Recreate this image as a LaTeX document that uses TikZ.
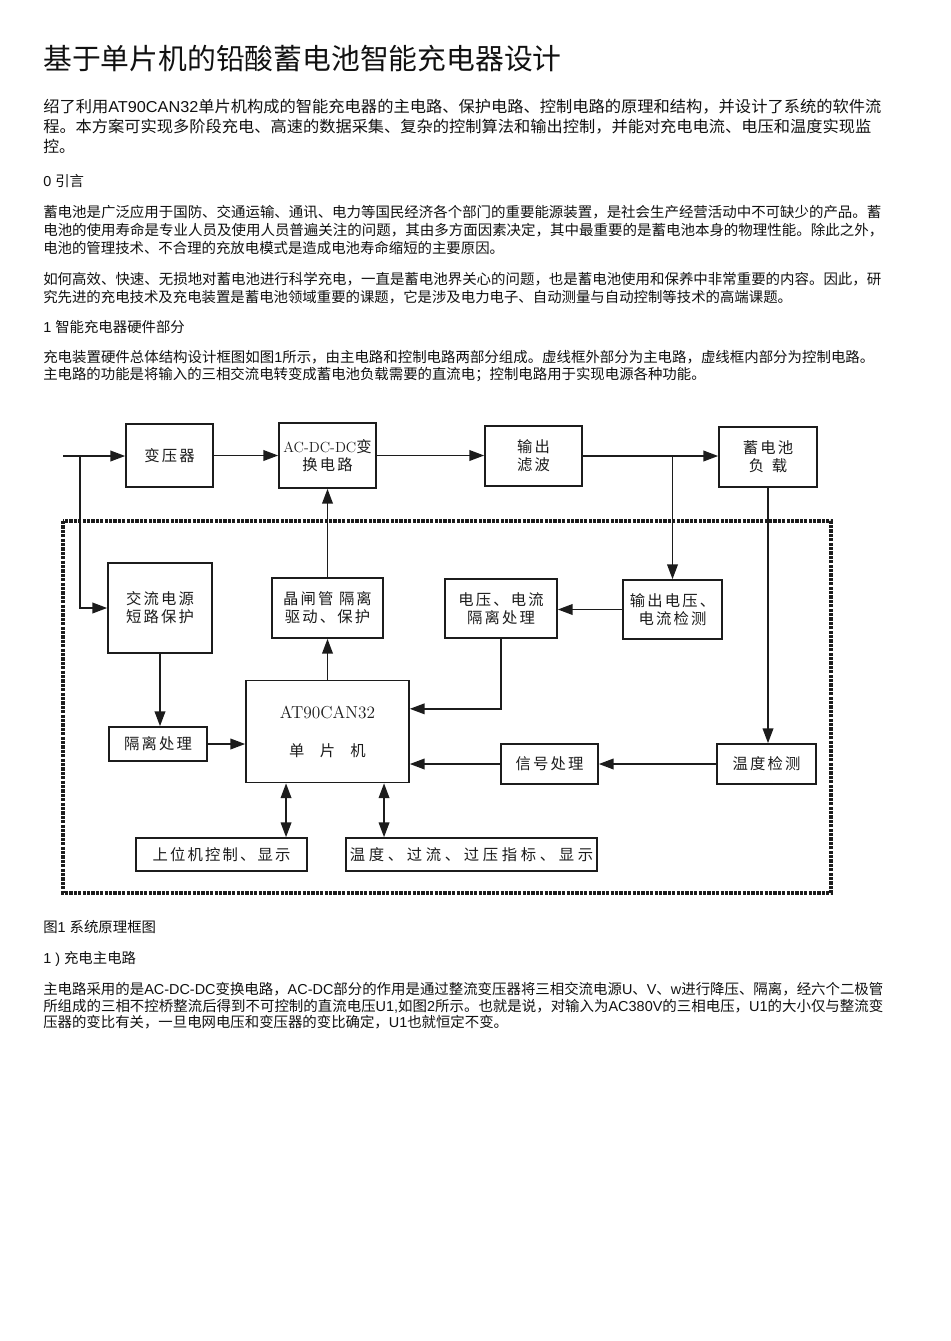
\documentclass[tikz,border=0pt]{standalone}
\usepackage{fontspec}
\usepackage{graphicx}
\usetikzlibrary{positioning, arrows.meta}
\newfontfamily\cjk{Noto Sans CJK SC}
\newfontfamily\cjkbox[LetterSpace=14]{Noto Sans CJK SC}
\newfontfamily\lat{Liberation Sans}
\definecolor{pageInk}{HTML}{111111}
\definecolor{boxInk}{HTML}{1C1C1C}
\colorlet{frameInk}{boxInk}
\newdimen\px \px=0.75pt
\newcommand\fitline[2]{\resizebox{#1\px}{\height}{#2}}

\begin{document}
\begin{tikzpicture}[x=0.75pt, y=-0.75pt,
  body/.style={anchor=west, inner sep=0pt, text=pageInk,
               font=\cjk\fontsize{10.8pt}{13pt}\selectfont},
  lead/.style={body, font=\cjk\fontsize{11.85pt}{14pt}\selectfont},
  unit/.style={draw=boxInk, line width=1.3pt, inner sep=0pt, align=center,
               text=boxInk, font=\cjkbox\fontsize{11.5pt}{13.5pt}\selectfont},
  link/.style={draw=boxInk, line width=1pt, -{Triangle[length=11pt, width=8pt]}},
  duplex/.style={link, {Triangle[length=11pt, width=8pt]}-{Triangle[length=11pt, width=8pt]}},
  ctrlframe/.style={draw=frameInk, line width=2.4pt, dash pattern=on 2.4pt off 0.9pt}]

  \fill[white] (0,0) rectangle (950,1341);
  \useasboundingbox (0,0) rectangle (950,1341);

  % page text
  \node[body, font=\cjk\fontsize{21.6pt}{26pt}\selectfont] (title) at (43,58.5)
    {基于单片机的铅酸蓄电池智能充电器设计};

  \node[lead] (p1a) at (43,107) {\fitline{838}{绍了利用{\lat AT90CAN32}单片机构成的智能充电器的主电路、保护电路、控制电路的原理和结构，并设计了系统的软件流}};
  \node[lead] (p1b) at (43,126.5) {\fitline{828}{程。本方案可实现多阶段充电、高速的数据采集、复杂的控制算法和输出控制，并能对充电电流、电压和温度实现监}};
  \node[lead] (p1c) at (43,146.5) {控。};

  \node[body] (h0) at (43,181) {{\lat 0 }引言};

  \node[body] (p2a) at (43,212.5) {\fitline{838}{蓄电池是广泛应用于国防、交通运输、通讯、电力等国民经济各个部门的重要能源装置，是社会生产经营活动中不可缺少的产品。蓄}};
  \node[body] (p2b) at (43,230) {\fitline{840}{电池的使用寿命是专业人员及使用人员普遍关注的问题，其由多方面因素决定，其中最重要的是蓄电池本身的物理性能。除此之外，}};
  \node[body] (p2c) at (43,247.5) {电池的管理技术、不合理的充放电模式是造成电池寿命缩短的主要原因。};

  \node[body] (p3a) at (43,279) {\fitline{838}{如何高效、快速、无损地对蓄电池进行科学充电，一直是蓄电池界关心的问题，也是蓄电池使用和保养中非常重要的内容。因此，研}};
  \node[body] (p3b) at (43,296.7) {究先进的充电技术及充电装置是蓄电池领域重要的课题，它是涉及电力电子、自动测量与自动控制等技术的高端课题。};

  \node[body] (h1) at (43,327) {{\lat 1 }智能充电器硬件部分};

  \node[body] (p4a) at (43,357.5) {\fitline{831}{充电装置硬件总体结构设计框图如图{\lat 1}所示，由主电路和控制电路两部分组成。虚线框外部分为主电路，虚线框内部分为控制电路。}};
  \node[body] (p4b) at (43,375) {主电路的功能是将输入的三相交流电转变成蓄电池负载需要的直流电；控制电路用于实现电源各种功能。};

  \node[body] (cap) at (43,927) {图{\lat 1 }系统原理框图};
  \node[body] (h11) at (43,959) {{\lat 1 ) }充电主电路};

  \node[body] (p5a) at (43,989) {\fitline{840}{主电路采用的是{\lat AC-DC-DC}变换电路，{\lat AC-DC}部分的作用是通过整流变压器将三相交流电源{\lat U}、{\lat V}、{\lat w}进行降压、隔离，经六个二极管}};
  \node[body] (p5b) at (43,1006) {\fitline{840}{所组成的三相不控桥整流后得到不可控制的直流电压{\lat U1,}如图{\lat 2}所示。也就是说，对输入为{\lat AC380V}的三相电压，{\lat U1}的大小仅与整流变}};
  \node[body] (p5c) at (43,1022.5) {压器的变比有关，一旦电网电压和变压器的变比确定，{\lat U1}也就恒定不变。};

  % block diagram
  \draw[ctrlframe] (63,521) rectangle (831,893);

  \node[unit, minimum width=87\px, minimum height=63\px] (xfmr) at (169.5,455.5) {变压器};
  \node[unit, minimum width=97\px, minimum height=65\px] (conv) at (327.5,455.5)
    {{\rmfamily\fontsize{11pt}{13pt}\selectfont AC-DC-DC}变\\换电路};
  \node[unit, minimum width=97\px, minimum height=60\px] (filt) at (533.5,456) {输出\\滤波};
  \node[unit, minimum width=98\px, minimum height=60\px] (batt) at (768,457) {蓄电池\\负\hspace{0.5em}载};

  \node[unit, minimum width=104\px, minimum height=90\px] (acsc) at (160,608) {交流电源\\短路保护};
  \node[unit, minimum width=111\px, minimum height=60\px] (scr) at (327.5,608) {晶闸管 隔离\\驱动、保护};
  \node[unit, minimum width=112\px, minimum height=59\px] (viso) at (501,608.5) {电压、电流\\隔离处理};
  \node[unit, minimum width=99\px, minimum height=59\px] (vdet) at (672.5,609.5) {输出电压、\\电流检测};

  \node[unit, minimum width=98\px, minimum height=34\px] (iso) at (158,744) {隔离处理};
  \node[unit, minimum width=163\px, minimum height=102\px,
        font=\cjkbox\fontsize{11.5pt}{28.5pt}\selectfont] (mcu) at (327.5,731.5)
    {{\rmfamily\fontsize{13pt}{15pt}\selectfont AT90CAN32}\\单\quad 片\quad 机};
  \node[unit, minimum width=97\px, minimum height=40\px] (sig) at (549.5,764) {信号处理};
  \node[unit, minimum width=99\px, minimum height=40\px] (tdet) at (766.5,764) {温度检测};

  \node[unit, minimum width=171\px, minimum height=33\px] (host) at (221.5,854.5) {上位机控制、显示};
  \node[unit, minimum width=251\px, minimum height=33\px] (ind) at (471.5,854.5)
    {\addfontfeature{LetterSpace=24}温度、过流、过压指标、显示};

  \coordinate (src) at (63,456);
  \coordinate (tap) at (80,456);

  \draw[link] (src) -- (src -| xfmr.west);
  \draw[link] (tap) |- (acsc.west);
  \draw[link] (xfmr) -- (conv);
  \draw[link] (conv.east) -- (conv.east -| filt.west);
  \draw[link] (filt.east) -- (filt.east -| batt.west);
  \draw[link] (filt.east -| vdet.north) -- (vdet.north);
  \draw[link] (vdet.west) -- (vdet.west -| viso.east);
  \draw[link] (viso.south) |- ([yshift=17pt]mcu.east);
  \draw[link] (batt.south) -- (batt.south |- tdet.north);
  \draw[link] (tdet.west) -- (tdet.west -| sig.east);
  \draw[link] (sig.west) -- (sig.west -| mcu.east);
  \draw[link] (acsc.south) -- (acsc.south |- iso.north);
  \draw[link] (iso.east) -- (iso.east -| mcu.west);
  \draw[link] (mcu.north) -- (scr.south);
  \draw[link] (scr.north) -- (conv.south);
  \draw[duplex] ([xshift=-31.1pt]mcu.south) -- ([xshift=-31.1pt]mcu.south |- host.north);
  \draw[duplex] ([xshift=42.4pt]mcu.south) -- ([xshift=42.4pt]mcu.south |- ind.north);
\end{tikzpicture}
\end{document}
